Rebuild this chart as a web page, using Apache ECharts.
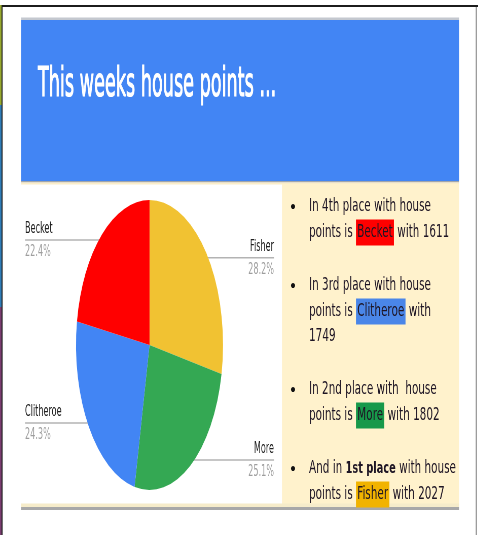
<!DOCTYPE html>
<html>
<head>
<meta charset="utf-8">
<script src="https://cdn.jsdelivr.net/npm/echarts@6.0.0/dist/echarts.min.js"></script>
<style>
  html, body { margin: 0; padding: 0; width: 478px; height: 535px; overflow: hidden; background: #fff; }
  /* the slide was squashed sideways, so draw it full width and squeeze the canvas */
  #chart { width: 943px; height: 535px; transform: scaleX(0.507); transform-origin: 0 0; }
</style>
</head>
<body>
<div id="chart"></div>
<script>
// house points this week, in pie order (clockwise from 12 o'clock)
const houses = ['Fisher', 'More', 'Clitheroe', 'Becket'];
const points = [2027, 1802, 1749, 1611];
const sliceColors = ['#f1c232', '#34a853', '#4285f4', '#ff0000'];
// highlighter colours behind the names in the bullet list
const markColors = ['#f1b300', '#17994a', '#4a86e8', '#ff0000'];
const places = ['1st', '2nd', '3rd', '4th'];
const titleText = 'This weeks house points ...';

const SQUEEZE = 0.507;
const sx = x => x / SQUEEZE;   // picture x -> canvas x

const PIE_CX = sx(149.5), PIE_CY = 345, PIE_R = 145;
const LABEL_LEFT = sx(25), LABEL_RIGHT = sx(274);
const FONT = 'DejaVu Sans';
const INK = '#1e1524';

const chart = echarts.init(document.getElementById('chart'));

// bullet list, 4th place first
const bulletText = [
  [`In ${places[3]} place with house`, `points is {h3|${houses[3]}} with ${points[3]}`],
  [`In ${places[2]} place with house`, `points is {h2|${houses[2]}} with`, `${points[2]}`],
  [`In ${places[1]} place with  house`, `points is {h1|${houses[1]}} with ${points[1]}`],
  [`And in {b|${places[0]} place} with house`, `points is {h0|${houses[0]}} with ${points[0]}`]
];
const bulletTops = [213, 292, 396, 475];  // baseline of first line in each bullet
const LINE_STEP = 25.5;

const rich = {
  b: { fontWeight: 'bold', fontSize: 16, fontFamily: FONT, lineHeight: 26 }
};
markColors.forEach((c, i) => {
  rich['h' + i] = {
    backgroundColor: c, height: 26, lineHeight: 26, padding: [0, 2],
    fontSize: 17, fontFamily: FONT
  };
});

const graphics = [
  // page frame
  { type: 'rect', shape: { x: 0, y: 5, width: 3, height: 100 }, style: { fill: '#97a92c' } },
  { type: 'rect', shape: { x: 0, y: 105, width: 3, height: 202 }, style: { fill: '#2f7db8' } },
  { type: 'rect', shape: { x: 0, y: 307, width: 3, height: 228 }, style: { fill: '#7a3d70' } },
  { type: 'rect', shape: { x: 3, y: 5, width: 2, height: 530 }, style: { fill: '#1c1c1c' } },
  { type: 'rect', shape: { x: 3, y: 5, width: 940, height: 2 }, style: { fill: '#1c1c1c' } },
  { type: 'rect', shape: { x: 938, y: 7, width: 3, height: 528 }, style: { fill: '#9c9c9c' } },
  // title banner
  { type: 'rect', shape: { x: sx(21), y: 17.5, width: sx(438), height: 2.5 }, style: { fill: '#c4c8cf' } },
  { type: 'rect', shape: { x: sx(21), y: 20, width: sx(438), height: 161 }, style: { fill: '#4285f4' } },
  { type: 'rect', shape: { x: sx(21), y: 181, width: sx(438), height: 1.5 }, style: { fill: '#a3a6a8' } },
  { type: 'rect', shape: { x: sx(21), y: 182.5, width: sx(438), height: 2 }, style: { fill: '#fbeec9' } },
  {
    type: 'text', x: sx(38), y: 86, scaleX: 0.87,
    style: {
      text: titleText, fill: '#fff', fontSize: 40, fontFamily: FONT, verticalAlign: 'middle',
      stroke: '#fff', lineWidth: 1.2
    }
  },
  // cream panel and bottom edge
  { type: 'rect', shape: { x: sx(282), y: 184, width: sx(177), height: 321 }, style: { fill: '#fff2cc' } },
  { type: 'rect', shape: { x: sx(21), y: 503.5, width: sx(438), height: 3.5 }, style: { fill: '#f6ecca' } },
  { type: 'rect', shape: { x: sx(21), y: 507, width: sx(438), height: 3 }, style: { fill: '#a8a8a8' } }
];

bulletText.forEach((lines, i) => {
  const top = bulletTops[i];
  graphics.push({
    type: 'ellipse', shape: { cx: sx(293), cy: top - 6.5, rx: sx(2), ry: 2.6 }, style: { fill: '#111' }
  });
  lines.forEach((t, j) => {
    graphics.push({
      type: 'text', x: sx(309), y: top + j * LINE_STEP - 6, scaleX: 1.21,
      style: {
        text: t, rich: rich, fill: INK, fontSize: 17, fontFamily: FONT,
        lineHeight: 26, verticalAlign: 'middle'
      }
    });
  });
});

const option = {
  animation: false,
  graphic: graphics,
  series: [
    {
      type: 'pie',
      center: [PIE_CX, PIE_CY],
      radius: PIE_R,
      startAngle: 90,
      clockwise: true,
      percentPrecision: 1,
      avoidLabelOverlap: false,
      silent: true,
      data: houses.map((name, i) => ({ name, value: points[i], itemStyle: { color: sliceColors[i] } })),
      label: {
        formatter: '{n|{b}}\n{p|{d}%}',
        rich: {
          n: { fontSize: 16, fontFamily: FONT, color: '#222', lineHeight: 23 },
          p: { fontSize: 16, fontFamily: FONT, color: '#9e9e9e', lineHeight: 23 }
        }
      },
      labelLine: { show: true, lineStyle: { color: '#b3b3b3', width: 1.5 } },
      labelLayout: function (params) {
        // start the leader line just inside the slice, run it flat out to the edge
        const p = params.labelLinePoints[0];
        const dx = PIE_CX + (p[0] - PIE_CX) * 0.95;
        const dy = PIE_CY + (p[1] - PIE_CY) * 0.95;
        const left = dx < PIE_CX;
        const edge = left ? LABEL_LEFT : LABEL_RIGHT;
        return {
          x: edge, y: dy,
          align: left ? 'left' : 'right',
          verticalAlign: 'middle',
          labelLinePoints: [[dx, dy], [edge, dy], [edge, dy]]
        };
      }
    }
  ]
};

chart.setOption(option);
</script>
</body>
</html>
